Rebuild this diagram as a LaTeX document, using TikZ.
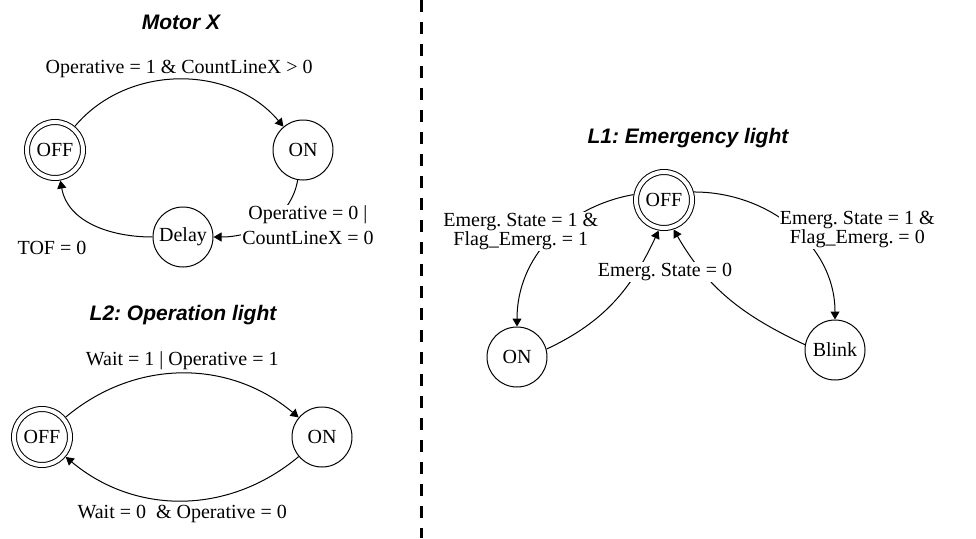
\documentclass[tikz,border=0pt]{standalone}
\usepackage{fontspec}
\setmainfont{Liberation Serif}
\setsansfont{Liberation Sans}
\usetikzlibrary{arrows.meta}

\begin{document}
\frenchspacing
\begin{tikzpicture}[x=1pt, y=1pt, font=\fontsize{20}{25}\selectfont, line width=1pt, >={Triangle[length=8pt, width=9pt]},
	every node/.style={inner sep=1pt},
	statenode/.style={draw, circle, minimum size=60pt, inner sep=0pt},
	initnode/.style={draw, circle, double, double distance=4pt, minimum size=56pt, inner sep=0pt, outer sep=3pt},
	titlenode/.style={font=\sffamily\bfseries\itshape\fontsize{21}{24}\selectfont},
	lbl/.style={fill=white, align=center},
	tightlbl/.style={lbl, font=\fontsize{20}{19}\selectfont}]
	\useasboundingbox (0,0) rectangle (976,-538);
	
	% Motor X
	\node[titlenode] (tmot) at (181, -22) {Motor X};
	\node[initnode] (moff) at (55, -150) {OFF};
	\node[statenode] (mon) at (303, -150) {ON};
	\node[statenode] (mdel) at (183, -237) {Delay};
	\node (tof) at (52, -248) {TOF = 0};
	\draw[->] (moff) to[out=50, in=130] node[above=0pt] {Operative = 1 \& CountLineX > 0} (mon);
	\draw[->] (mon) to[out=-100, in=0] node[lbl, pos=0.5, xshift=40pt, yshift=-2pt] {Operative = 0 |\\CountLineX = 0} (mdel);
	\draw[->] (mdel) to[out=180, in=-80] (moff);
	
	% L2
	\node[titlenode] (tlop) at (183, -315) {L2: Operation light};
	\node[initnode] (loff) at (42, -437) {OFF};
	\node[statenode] (lon) at (322, -437) {ON};
	\draw[->] (loff) to[out=40, in=140] node[above=2pt] {Wait = 1 | Operative = 1} (lon);
	\draw[->] (lon) to[out=-140, in=-40] node[below=3pt] {Wait = 0~ \& Operative = 0} (loff);
	
	% divider
	\coordinate (dtop) at (421, 0);
	\coordinate (dbot) at (421, -538);
	\draw[line width=3pt, dash pattern=on 12pt off 10pt] (dtop) -- (dbot);
	
	% L1
	\node[titlenode] (tem) at (688, -138) {L1: Emergency light};
	\node[initnode] (eoff) at (664, -200) {OFF};
	\node[statenode] (eon) at (517, -357) {ON};
	\node[statenode] (eblk) at (835, -350) {Blink};
	\draw[->] (eoff.170) to[out=190, in=90] node[tightlbl, pos=0.5, xshift=-29pt, yshift=8pt] {Emerg. State = 1 \&\\Flag\_Emerg. = 1} (eon);
	\draw[->] (eoff.15) to[out=0, in=90] node[tightlbl, pos=0.5, xshift=65pt, yshift=-2pt] {Emerg. State = 1 \&\\Flag\_Emerg. = 0} (eblk);
	\draw[->] (eon.15) to[out=25, in=-115] (eoff.-100);
	\draw[->] (eblk.170) to[out=155, in=-60] (eoff.-72);
	\node[lbl] (ezero) at (665, -272) {Emerg. State = 0};
\end{tikzpicture}
\end{document}
